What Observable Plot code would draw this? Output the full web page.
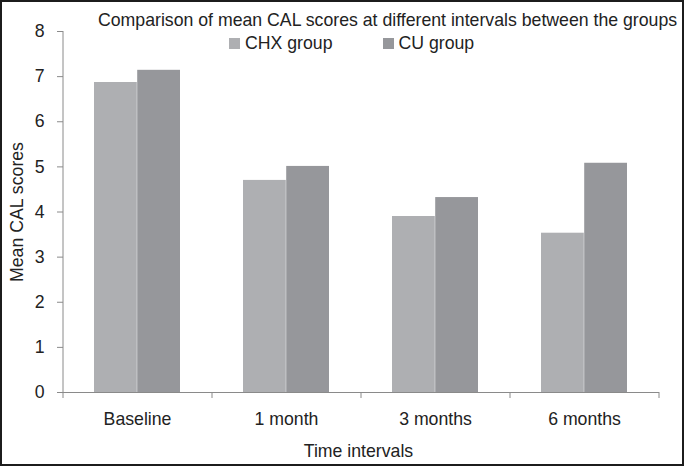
<!DOCTYPE html>
<html>
<head>
<meta charset="utf-8">
<script src="https://cdn.jsdelivr.net/npm/d3@7"></script>
<script src="https://cdn.jsdelivr.net/npm/@observablehq/plot@0.6"></script>
<style>
  html, body { margin: 0; padding: 0; background: #fff; }
  #wrap { position: relative; width: 684px; height: 466px; overflow: hidden; font-family: "Liberation Sans", Arial, sans-serif; color: #222; }
  #border { position: absolute; left: 0; top: 0; width: 684px; height: 466px; box-sizing: border-box; border: 2px solid #1c1c1c; pointer-events: none; }
  #title { position: absolute; left: 98px; top: 10px; font-size: 17.7px; white-space: nowrap; }
  #legend { position: absolute; left: 229px; top: 33px; font-size: 17.7px; display: flex; white-space: nowrap; }
  .item { display: flex; align-items: center; }
  .sw { width: 11px; height: 11px; margin-right: 5px; display: inline-block; }
  #chart { position: absolute; left: 0; top: 0; }
</style>
</head>
<body>
<div id="wrap">
  <div id="chart"></div>
  <div id="title"></div>
  <div id="legend"></div>
  <div id="border"></div>
</div>
<script>
const title = "Comparison of mean CAL scores at different intervals between the groups";
const categories = ["Baseline", "1 month", "3 months", "6 months"];
const groups = ["CHX group", "CU group"];
const chx = [6.87, 4.70, 3.90, 3.53];
const cu = [7.14, 5.01, 4.32, 5.08];
const yTicks = [0, 1, 2, 3, 4, 5, 6, 7, 8];
const colors = ["#aeafb2", "#96979b"];
const yLabel = "Mean CAL scores";
const xLabel = "Time intervals";

const W = 684, H = 466;
const mL = 63, mR = 25, mT = 31, mB = 74;
const pad = 0.42;
const step = (W - mL - mR) / categories.length;
const bw = step * (1 - pad);

const data = [];
categories.forEach((c, i) => {
  data.push({cat: c, group: groups[0], v: chx[i]});
  data.push({cat: c, group: groups[1], v: cu[i]});
});
const chxData = data.filter(d => d.group === groups[0]);
const cuData = data.filter(d => d.group === groups[1]);

const axisColor = "#8a8a8a";
const fs = 17.7;

const plot = Plot.plot({
  width: W, height: H,
  marginLeft: mL, marginRight: mR, marginTop: mT, marginBottom: mB,
  style: {fontFamily: "Liberation Sans, Arial, sans-serif", fontSize: fs + "px", color: "#222", background: "transparent"},
  x: {type: "band", domain: categories, paddingInner: pad, paddingOuter: pad / 2, label: null, tickSize: 0, tickPadding: 20},
  y: {domain: [0, 8], ticks: yTicks, label: null, tickSize: 6, tickPadding: 13},
  marks: [
    Plot.barY(chxData, {x: "cat", y: "v", fill: colors[0], insetRight: bw / 2}),
    Plot.barY(cuData, {x: "cat", y: "v", fill: colors[1], insetLeft: bw / 2}),
    Plot.ruleY([0], {stroke: axisColor, strokeWidth: 1}),
    // boundary tick marks on x axis
    Plot.ruleX(categories, {x: d => d, y1: 0, y2: 0, dx: -step / 2, insetBottom: -6, stroke: axisColor}),
    Plot.ruleX(categories.slice(-1), {x: d => d, y1: 0, y2: 0, dx: step / 2, insetBottom: -6, stroke: axisColor}),
    // y axis line
    Plot.ruleX(categories.slice(0, 1), {x: d => d, y1: 0, y2: 8, dx: -step / 2, stroke: axisColor}),
    Plot.text([yLabel], {frameAnchor: "left", textAnchor: "middle", text: d => d, rotate: -90, dx: -46, dy: 0, fontSize: fs, fill: "#222"}),
    Plot.text([xLabel], {frameAnchor: "bottom", text: d => d, dx: -3, dy: 64, fontSize: fs, fill: "#222"})
  ]
});
plot.querySelectorAll("g[aria-label='y-axis tick'] path, g[aria-label='y-axis'] .tick line").forEach(p => p.setAttribute("stroke", axisColor));
document.getElementById("chart").appendChild(plot);

document.getElementById("title").textContent = title;
const leg = document.getElementById("legend");
groups.forEach((g, i) => {
  const it = document.createElement("div");
  it.className = "item";
  if (i > 0) it.style.marginLeft = "50px";
  const sw = document.createElement("span");
  sw.className = "sw";
  sw.style.background = colors[i];
  it.appendChild(sw);
  const t = document.createElement("span");
  t.textContent = g;
  it.appendChild(t);
  leg.appendChild(it);
});
</script>
</body>
</html>
